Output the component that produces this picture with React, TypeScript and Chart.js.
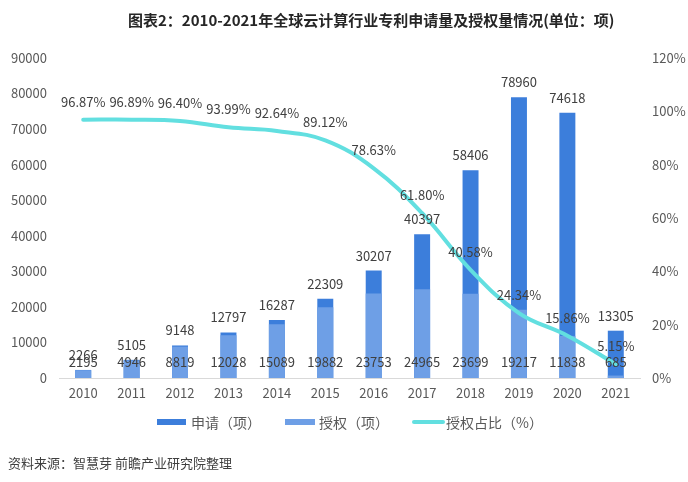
import React, { useEffect, useRef } from "react";
import { Chart, registerables } from "chart.js";

Chart.register(...registerables);

const years = ["2010", "2011", "2012", "2013", "2014", "2015", "2016", "2017", "2018", "2019", "2020", "2021"];
const applications = [2266, 5105, 9148, 12797, 16287, 22309, 30207, 40397, 58406, 78960, 74618, 13305];
const grants = [2195, 4946, 8819, 12028, 15089, 19882, 23753, 24965, 23699, 19217, 11838, 685];
const grantRatio = [96.87, 96.89, 96.4, 93.99, 92.64, 89.12, 78.63, 61.8, 40.58, 24.34, 15.86, 5.15];

const leftMax = 90000;
const leftStep = 10000;
const rightMax = 120;
const rightStep = 20;

const seriesNames = ["申请（项）", "授权（项）", "授权占比（%）"];
const titleText = "图表2：2010-2021年全球云计算行业专利申请量及授权量情况(单位：项)";
const sourceText = "资料来源：智慧芽 前瞻产业研究院整理";

const DARK = "#3c7edb";
const LIGHT = "#6e9fe6";
const CYAN = "#62dfe0";
const FONT = '"Noto Sans CJK SC", "Noto Sans", sans-serif';

const labelPlugin = {
  id: "valueLabels",
  afterDatasetsDraw(chart: any) {
    const ctx = chart.ctx;
    ctx.save();
    ctx.font = `13px ${FONT}`;
    ctx.fillStyle = "#404040";
    ctx.textAlign = "center";
    ctx.textBaseline = "middle";
    const base = chart.scales.y.getPixelForValue(0);
    const m0 = chart.getDatasetMeta(0);
    const m1 = chart.getDatasetMeta(1);
    const m2 = chart.getDatasetMeta(2);
    m0.data.forEach((el: any, i: number) => {
      ctx.fillText(String(applications[i]), el.x, el.y - 15);
    });
    m1.data.forEach((el: any, i: number) => {
      ctx.fillText(String(grants[i]), el.x, base - 16);
    });
    m2.data.forEach((el: any, i: number) => {
      ctx.fillText(grantRatio[i].toFixed(2) + "%", el.x, el.y - 18);
    });
    ctx.restore();
  },
};

export default function App() {
  const ref = useRef<HTMLCanvasElement | null>(null);
  useEffect(() => {
    if (!ref.current) return;
    const chart = new Chart(ref.current, {
      type: "bar",
      data: {
        labels: years,
        datasets: [
          {
            type: "bar",
            label: seriesNames[0],
            data: applications,
            backgroundColor: DARK,
            grouped: false,
            barPercentage: 0.33,
            categoryPercentage: 1,
            yAxisID: "y",
            order: 3,
          } as any,
          {
            type: "bar",
            label: seriesNames[1],
            data: grants,
            backgroundColor: LIGHT,
            grouped: false,
            barPercentage: 0.33,
            categoryPercentage: 1,
            yAxisID: "y",
            order: 2,
          } as any,
          {
            type: "line",
            label: seriesNames[2],
            data: grantRatio,
            borderColor: CYAN,
            backgroundColor: CYAN,
            borderWidth: 4,
            pointRadius: 0,
            tension: 0.4,
            borderCapStyle: "round",
            yAxisID: "y1",
            order: 1,
          } as any,
        ],
      },
      options: {
        responsive: false,
        animation: false,
        layout: { padding: { top: 58, left: 0, right: 0, bottom: 0 } },
        plugins: {
          legend: { display: false },
          title: { display: false },
          tooltip: { enabled: false },
        },
        scales: {
          x: {
            grid: { display: false, drawTicks: false },
            border: { display: true, color: "#d9d9d9", width: 1 },
            ticks: { color: "#595959", font: { size: 13, family: FONT }, padding: 7 },
            afterFit: (s: any) => {
              s.height = 104;
            },
          },
          y: {
            position: "left",
            min: 0,
            max: leftMax,
            grid: { display: false, drawTicks: false },
            border: { display: false },
            ticks: {
              stepSize: leftStep,
              color: "#595959",
              font: { size: 13, family: FONT },
              padding: 12,
              callback: (v: any) => String(v),
            },
            afterFit: (s: any) => {
              s.width = 59;
            },
          },
          y1: {
            position: "right",
            min: 0,
            max: rightMax,
            grid: { display: false, drawTicks: false },
            border: { display: false },
            ticks: {
              stepSize: rightStep,
              color: "#595959",
              font: { size: 13, family: FONT },
              padding: 12,
              callback: (v: any) => v + "%",
            },
            afterFit: (s: any) => {
              s.width = 48;
            },
          },
        },
      } as any,
      plugins: [labelPlugin],
    });
    return () => chart.destroy();
  }, []);

  const legendText: React.CSSProperties = {
    position: "absolute",
    top: 413,
    fontSize: 14,
    color: "#595959",
    whiteSpace: "nowrap",
    lineHeight: "18px",
  };

  return (
    <div
      style={{
        position: "fixed",
        left: 0,
        top: 0,
        width: 688,
        height: 482,
        background: "#fff",
        fontFamily: FONT,
        overflow: "hidden",
      }}
    >
      <canvas ref={ref} width={688} height={482} style={{ position: "absolute", left: 0, top: 0 }} />
      <div
        style={{
          position: "absolute",
          left: 128,
          top: 9,
          fontSize: 15,
          fontWeight: "bold",
          color: "#262626",
          whiteSpace: "nowrap",
          lineHeight: "22px",
        }}
      >
        {titleText}
      </div>
      <div style={{ position: "absolute", left: 157, top: 419, width: 29, height: 6, background: DARK }} />
      <div style={{ ...legendText, left: 191 }}>{seriesNames[0]}</div>
      <div style={{ position: "absolute", left: 285, top: 419, width: 30, height: 6, background: LIGHT }} />
      <div style={{ ...legendText, left: 319 }}>{seriesNames[1]}</div>
      <div style={{ position: "absolute", left: 412, top: 420, width: 33, height: 4, background: CYAN, borderRadius: 2 }} />
      <div style={{ ...legendText, left: 446 }}>{seriesNames[2]}</div>
      <div
        style={{
          position: "absolute",
          left: 8,
          top: 453,
          fontSize: 13,
          color: "#404040",
          whiteSpace: "nowrap",
          lineHeight: "20px",
        }}
      >
        {sourceText}
      </div>
    </div>
  );
}
